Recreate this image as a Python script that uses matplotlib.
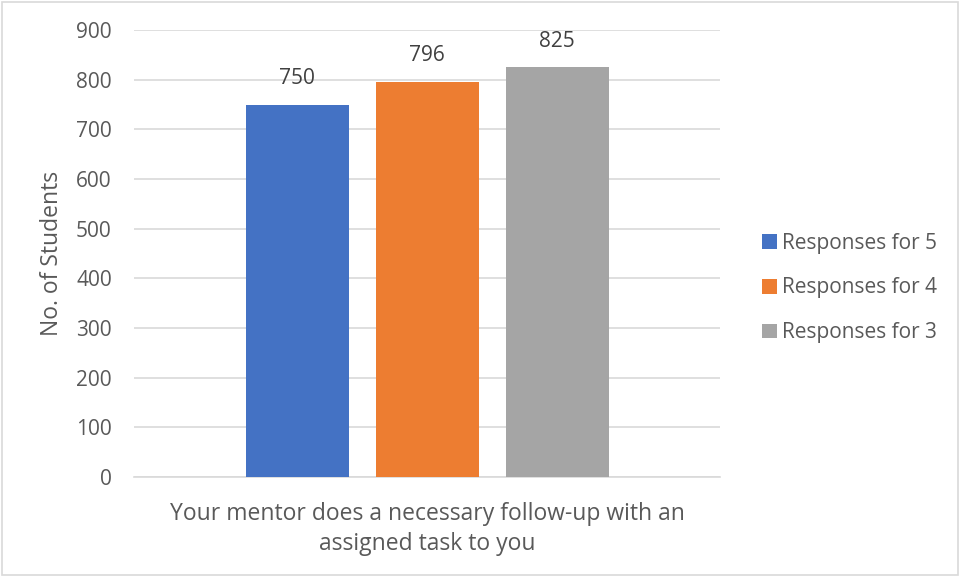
import matplotlib.pyplot as plt
from matplotlib.patches import Rectangle

# data
question = "Your mentor does a necessary follow-up with an\nassigned task to you"
series = ["Responses for 5", "Responses for 4", "Responses for 3"]
counts = [750, 796, 825]
colors = ["#4472C4", "#ED7D31", "#A5A5A5"]

text_color = "#595959"
plt.rcParams["font.family"] = ["Open Sans", "DejaVu Sans"]


def main():
    fig = plt.figure(figsize=(9.61, 5.77), dpi=100)
    ax = fig.add_axes([134 / 961, 1 - 477 / 577, 586 / 961, 447 / 577])

    width = 103 / 586
    step = 130 / 586
    for i, (name, val, col) in enumerate(zip(series, counts, colors)):
        x = (i - 1) * step
        ax.bar(x, val, width=width, color=col, label=name, zorder=3)
        ax.annotate(str(val), (x, val), xytext=(0, 11), textcoords="offset points",
                    ha="center", va="bottom", fontsize=15, color="#404040")

    ax.set_xlim(-0.5, 0.5)
    ax.set_ylim(0, 900)
    ax.set_yticks(range(0, 901, 100))
    ax.yaxis.grid(True, color="#D9D9D9", linewidth=1.2, zorder=0)
    ax.set_xticks([])
    for s in ["top", "right", "left"]:
        ax.spines[s].set_visible(False)
    ax.spines["bottom"].set_color("#D9D9D9")
    ax.spines["bottom"].set_linewidth(1.2)
    ax.tick_params(axis="y", length=0, pad=16, labelsize=15, labelcolor=text_color)

    ax.set_ylabel("No. of Students", fontsize=16.5, color=text_color, labelpad=9)
    ax.set_xlabel(question, fontsize=16.5, color=text_color, labelpad=18, linespacing=1.35)

    fig.legend(loc="center left", bbox_to_anchor=(754 / 961, 1 - 288 / 577), frameon=False,
               borderaxespad=0, fontsize=15, labelcolor=text_color, handlelength=0.7,
               handleheight=0.7, handletextpad=0.25, labelspacing=1.14)

    # light border around the chart
    fig.patches.append(Rectangle((2 / 961, 2 / 577), 956 / 961, 573 / 577, transform=fig.transFigure,
                                 fill=False, edgecolor="#D9D9D9", linewidth=1.2))

    fig.savefig("out.png", dpi=100)


if __name__ == '__main__':
    main()
